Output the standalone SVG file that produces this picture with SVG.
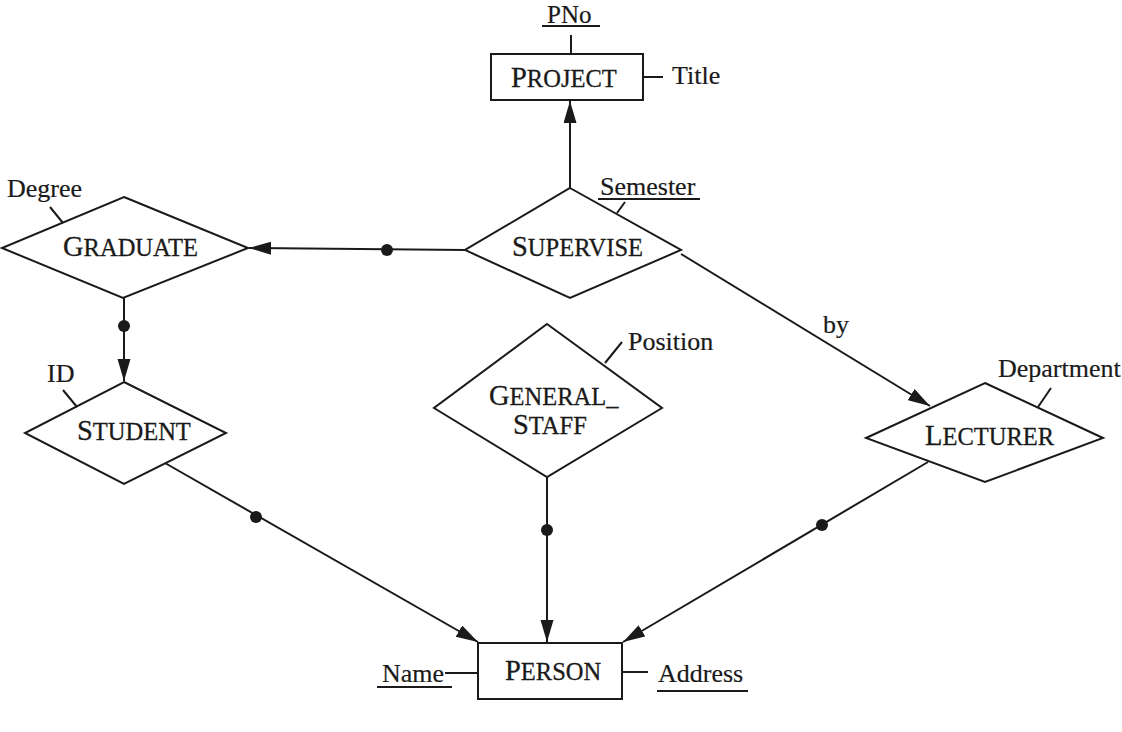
<svg xmlns="http://www.w3.org/2000/svg" width="1122" height="732" viewBox="0 0 1122 732">
<style>
.shape{fill:#fff;stroke:#1a1a1a;stroke-width:2}
.ln{fill:none;stroke:#1a1a1a;stroke-width:2}
.t{font-family:"Liberation Serif","Times New Roman",serif;font-size:24.5px;fill:#1a1a1a;stroke:#1a1a1a;stroke-width:0.3}
.big{font-size:28.5px}
.a{font-family:"Liberation Serif","Times New Roman",serif;font-size:26px;fill:#1a1a1a;stroke:#1a1a1a;stroke-width:0.2}
.dot{fill:#1a1a1a}
</style>
<defs>
<marker id="arr" markerUnits="userSpaceOnUse" markerWidth="24" markerHeight="14" refX="22" refY="6.5" orient="auto">
<path d="M0,0 L22,6.5 L0,13 z" fill="#1a1a1a"/>
</marker>
</defs>
<g id="connectors">
<line class="ln" x1="570" y1="188" x2="570" y2="101" marker-end="url(#arr)"/>
<line class="ln" x1="465" y1="250" x2="249" y2="248" marker-end="url(#arr)"/>
<circle class="dot" cx="387" cy="250" r="6"/>
<line class="ln" x1="124" y1="298" x2="124" y2="381" marker-end="url(#arr)"/>
<circle class="dot" cx="124" cy="326" r="6"/>
<line class="ln" x1="681" y1="254" x2="930" y2="406" marker-end="url(#arr)"/>
<text class="a" x="823" y="333">by</text>
<line class="ln" x1="165" y1="463" x2="478" y2="642" marker-end="url(#arr)"/>
<circle class="dot" cx="256" cy="517" r="6"/>
<line class="ln" x1="547" y1="477" x2="547" y2="642" marker-end="url(#arr)"/>
<circle class="dot" cx="547" cy="530" r="6"/>
<line class="ln" x1="928" y1="462" x2="623" y2="642" marker-end="url(#arr)"/>
<circle class="dot" cx="822" cy="525" r="6"/>
</g>
<g id="project">
<rect class="shape" x="491" y="54" width="152" height="46"/>
<text class="t" x="511" y="87"><tspan class="big">P</tspan>ROJECT</text>
<line class="ln" x1="571" y1="35" x2="571" y2="54"/>
<text class="a" x="547" y="23" style="font-size:25px">PNo</text>
<line class="ln" x1="542" y1="26" x2="600" y2="26"/>
<line class="ln" x1="643" y1="77" x2="663" y2="77"/>
<text class="a" x="672" y="84">Title</text>
</g>
<g id="supervise">
<polygon class="shape" points="570,188 681,250 570,298 465,250"/>
<text class="t" x="512" y="256"><tspan class="big">S</tspan>UPERVISE</text>
<line class="ln" x1="617" y1="213" x2="625" y2="202"/>
<text class="a" x="600" y="195">Semester</text>
<line class="ln" x1="598" y1="199" x2="700" y2="199"/>
</g>
<g id="graduate">
<polygon class="shape" points="124,197 248,248 123,298 2,248"/>
<text class="t" x="63" y="256"><tspan class="big">G</tspan>RADUATE</text>
<line class="ln" x1="50" y1="207" x2="63" y2="223"/>
<text class="a" x="7" y="197">Degree</text>
</g>
<g id="student">
<polygon class="shape" points="124,382 226,433 124,484 25,433"/>
<text class="t" x="77" y="440"><tspan class="big">S</tspan>TUDENT</text>
<line class="ln" x1="63" y1="390" x2="77" y2="407"/>
<text class="a" x="47" y="382">ID</text>
</g>
<g id="general_staff">
<polygon class="shape" points="547,324 662,408 547,477 434,408"/>
<text class="t" x="489" y="405"><tspan class="big">G</tspan>ENERAL_</text>
<text class="t" x="513" y="434"><tspan class="big">S</tspan>TAFF</text>
<line class="ln" x1="605" y1="363" x2="622" y2="342"/>
<text class="a" x="628" y="350">Position</text>
</g>
<g id="lecturer">
<polygon class="shape" points="985,383 1103,438 985,482 866,438"/>
<text class="t" x="925" y="445"><tspan class="big">L</tspan>ECTURER</text>
<line class="ln" x1="1038" y1="407" x2="1051" y2="388"/>
<text class="a" x="998" y="377">Department</text>
</g>
<g id="person">
<rect class="shape" x="478" y="643" width="144" height="56"/>
<text class="t" x="505" y="680"><tspan class="big">P</tspan>ERSON</text>
<line class="ln" x1="445" y1="673" x2="478" y2="673"/>
<text class="a" x="382" y="682">Name</text>
<line class="ln" x1="377" y1="687" x2="452" y2="687"/>
<line class="ln" x1="622" y1="672" x2="648" y2="672"/>
<text class="a" x="658" y="682">Address</text>
<line class="ln" x1="657" y1="691" x2="748" y2="691"/>
</g>
</svg>
